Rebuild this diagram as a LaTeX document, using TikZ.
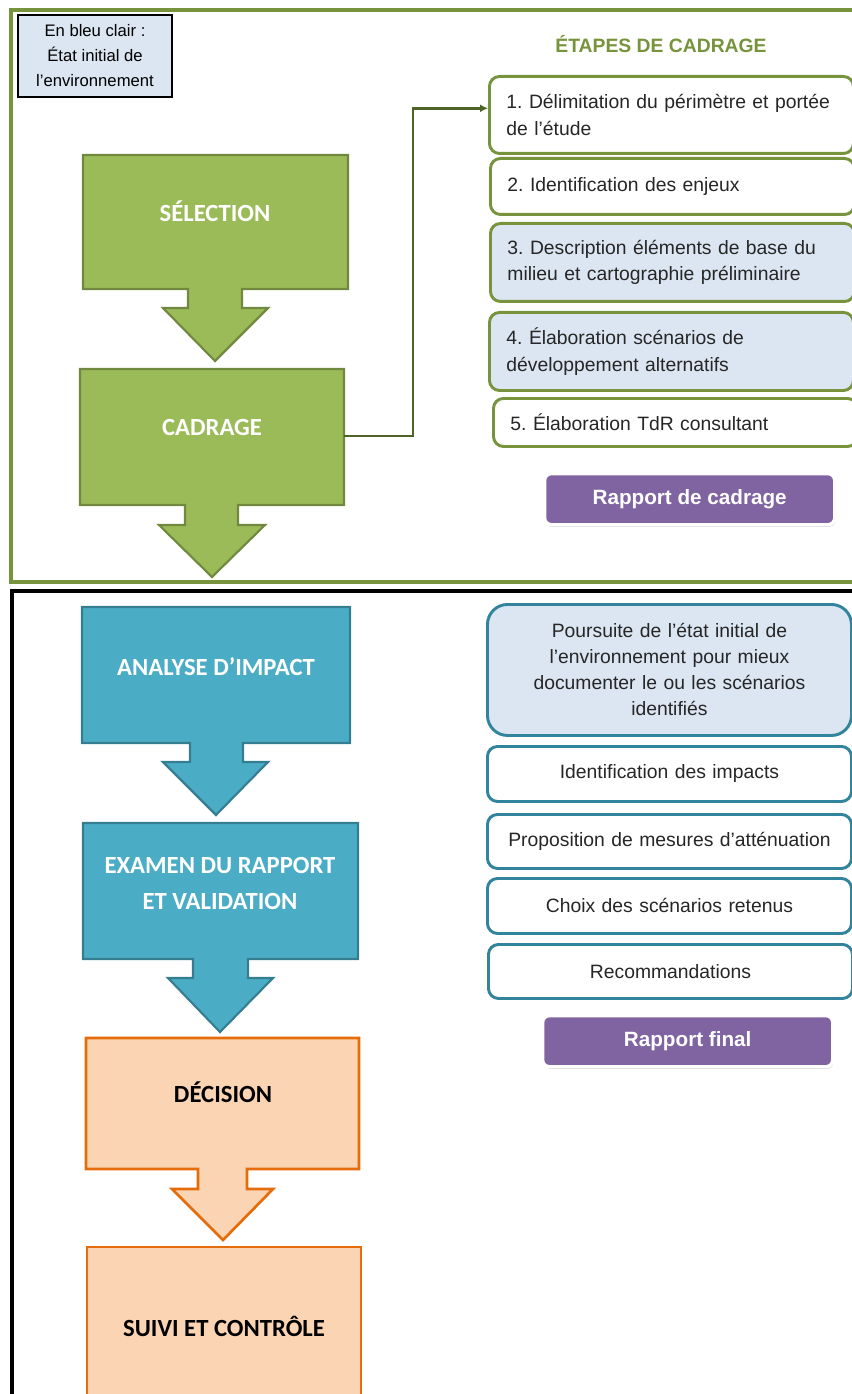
\documentclass[tikz,border=0pt]{standalone}
\usepackage{fontspec}
\setmainfont{Liberation Sans}
\newfontfamily\calibri{Carlito}
\usetikzlibrary{arrows.meta,shadows}
\frenchspacing

\definecolor{vert}{HTML}{9BBB59}
\definecolor{vertfonce}{HTML}{71893F}
\definecolor{vertcadre}{HTML}{77933C}
\definecolor{vertligne}{HTML}{4F6228}
\definecolor{bleuclair}{HTML}{DCE6F2}
\definecolor{turquoise}{HTML}{4BACC6}
\definecolor{turquoisefonce}{HTML}{357D91}
\definecolor{bleucadre}{HTML}{31849B}
\definecolor{peche}{HTML}{FBD4B4}
\definecolor{orangefonce}{HTML}{E46C0A}
\definecolor{violet}{HTML}{8064A2}

\newcommand\px{0.75pt}

\tikzset{
  blocvert/.style={fill=vert, draw=vertfonce, line width=1.6pt},
  blocbleu/.style={fill=turquoise, draw=turquoisefonce, line width=1.6pt},
  blocorange/.style={fill=peche, draw=orangefonce, line width=2pt},
  bloctexte/.style={font=\calibri\bfseries\fontsize{18.5}{27}\selectfont, text=white, align=center, anchor=base},
  etape/.style={draw=vertcadre, line width=2.2pt, rounded corners=7.5pt, fill=white,
    anchor=north west, align=left, text width=330*\px, inner xsep=17*\px,
    font=\fontsize{14.5}{20}\selectfont, text=black!85},
  suite/.style={draw=bleucadre, line width=2.2pt, rounded corners=7.5pt, fill=white,
    anchor=north west, align=center, text width=340*\px, inner xsep=12*\px,
    font=\fontsize{14.5}{19.5}\selectfont, text=black!85},
  rapport/.style={fill=violet, draw=white, line width=2.5pt, rounded corners=5pt,
    drop shadow={shadow xshift=0.6pt, shadow yshift=-1.6pt, opacity=0.35},
    anchor=north west, text=white, font=\bfseries\fontsize{15.5}{18}\selectfont},
  legende/.style={draw=black, line width=1.2pt, fill=bleuclair, align=center,
    minimum width=154*\px, minimum height=82*\px, inner sep=0pt,
    font=\fontsize{12.5}{18.75}\selectfont},
  lien/.style={draw=vertligne, line width=2pt, -{Latex[length=6pt,width=6pt]}},
}

\begin{document}
\begin{tikzpicture}[x=0.75pt, y=-0.75pt]
  \useasboundingbox (0,0) rectangle (851,1394);

  % cadres
  \draw[vertcadre, line width=2.4pt] (11,10) rectangle (870,582);
  \draw[black, line width=2.4pt] (12,591) rectangle (870,1410);

  \node[legende] (leg) at (95,56) {En bleu clair :\\État initial de\\l'environnement};

  % colonne de gauche
  \draw[blocvert] (83,155) -- (348,155) -- (348,289) -- (242,289) -- (242,308) -- (268,308)
    -- (215,361) -- (163,308) -- (188,308) -- (188,289) -- (83,289) -- cycle;
  \node[bloctexte] (sel) at (215,222) {SÉLECTION};

  \draw[blocvert] (80,369) -- (344,369) -- (344,505) -- (238,505) -- (238,525) -- (265,525)
    -- (212,577) -- (159,525) -- (185,525) -- (185,505) -- (80,505) -- cycle;
  \node[bloctexte] (cad) at (212,435) {CADRAGE};
  \coordinate (cadE) at (344,436);

  \draw[blocbleu] (82,607) -- (350,607) -- (350,743) -- (243,743) -- (243,762) -- (268,762)
    -- (216,815) -- (163,762) -- (190,762) -- (190,743) -- (82,743) -- cycle;
  \node[bloctexte] (ana) at (216,675) {ANALYSE D’IMPACT};

  \draw[blocbleu] (83,823) -- (358,823) -- (358,959) -- (248,959) -- (248,978) -- (273,978)
    -- (220,1032) -- (168,978) -- (193,978) -- (193,959) -- (83,959) -- cycle;
  % base = derniere ligne
  \node[bloctexte] (exa) at (220,909) {EXAMEN DU RAPPORT\\ET VALIDATION};

  \draw[blocorange] (86,1038) -- (359,1038) -- (359,1169) -- (247,1169) -- (247,1189) -- (273,1189)
    -- (223,1240) -- (172,1189) -- (198,1189) -- (198,1169) -- (86,1169) -- cycle;
  \node[bloctexte, text=black] (dec) at (223,1102) {DÉCISION};

  \draw[blocorange] (87,1247) rectangle (361,1410);
  \node[bloctexte, text=black] (sui) at (224,1336) {SUIVI ET CONTRÔLE};

  % etapes de cadrage
  \node[font=\bfseries\fontsize{14.5}{16}\selectfont, text=vertcadre, anchor=base] (tit) at (661,53) {ÉTAPES DE CADRAGE};
  \node[etape, minimum height=77*\px] (b1) at (488,75) {1. Délimitation du périmètre et portée\\de l'étude};
  \node[etape, minimum height=56*\px] (b2) at (489,157) {2. Identification des enjeux};
  \node[etape, fill=bleuclair, minimum height=78*\px] (b3) at (489,222) {3. Description éléments de base du\\milieu et cartographie préliminaire};
  \node[etape, fill=bleuclair, minimum height=78*\px] (b4) at (488,311) {4. Élaboration scénarios de\\développement alternatifs};
  \node[etape, minimum height=48*\px] (b5) at (492,397) {5. Élaboration TdR consultant};
  \node[rapport, minimum width=290*\px, minimum height=51*\px] (rc) at (543,472) {Rapport de cadrage};

  \draw[lien] (cadE) -- ++(69,0) |- ([yshift=5pt]b1.west);

  % analyse
  \node[suite, fill=bleuclair, rounded corners=15pt, minimum height=131*\px] (c1) at (486,603)
    {Poursuite de l'état initial de\\l'environnement pour mieux\\documenter le ou les scénarios\\identifiés};
  \node[suite, minimum height=55*\px] (c2) at (486,745) {Identification des impacts};
  \node[suite, minimum height=54*\px] (c3) at (486,813) {Proposition de mesures d'atténuation};
  \node[suite, minimum height=55*\px] (c4) at (486,877) {Choix des scénarios retenus};
  \node[suite, minimum height=54*\px] (c5) at (487,943) {Recommandations};
  \node[rapport, minimum width=290*\px, minimum height=51*\px] (rf) at (541,1014) {Rapport final};
\end{tikzpicture}
\end{document}
